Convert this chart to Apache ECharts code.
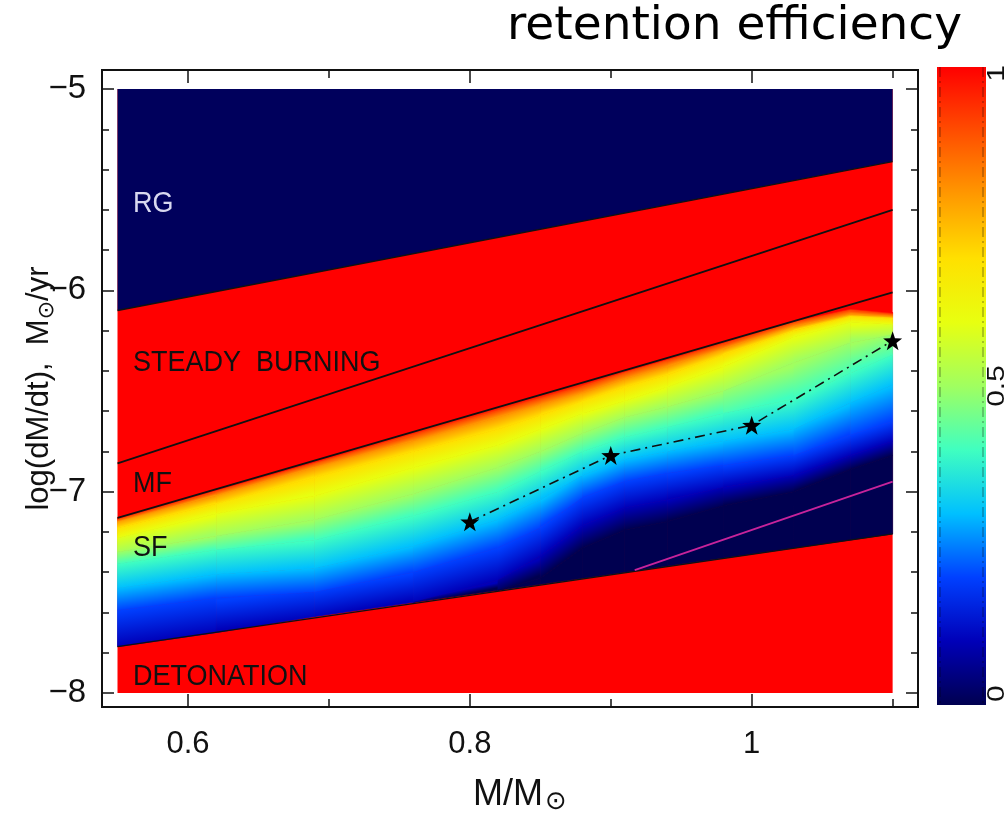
<!DOCTYPE html>
<html>
<head>
<meta charset="utf-8">
<title>retention efficiency</title>
<script src="https://cdn.jsdelivr.net/npm/echarts@6/dist/echarts.min.js"></script>
<style>
html, body { margin: 0; padding: 0; background: #fff; }
#box { width: 1005px; height: 823px; }
</style>
</head>
<body>
<div id="box"></div>
<script>
// white dwarf mass columns (M/Msun) where the efficiency map was read
var massCols = [0.55, 0.62, 0.69, 0.76, 0.82, 0.85, 0.88, 0.91, 0.94, 0.98, 1.03, 1.07, 1.1];
// efficiency of each iso-line, from the top of the SF band down
var effLevels = [1.0, 0.9, 0.8, 0.7, 0.6, 0.5, 0.4, 0.3, 0.2, 0.1, 0.0];
// log(dM/dt) of each iso-line, one row per level, one entry per mass column
var levelRates = [
    [-7.13, -6.99, -6.85, -6.70, -6.58, -6.52, -6.46, -6.40, -6.34, -6.25, -6.15, -6.09, -6.11],
    [-7.14, -7.00, -6.86, -6.72, -6.60, -6.54, -6.48, -6.41, -6.35, -6.27, -6.16, -6.10, -6.12],
    [-7.15, -7.02, -6.88, -6.75, -6.63, -6.57, -6.51, -6.44, -6.38, -6.29, -6.18, -6.12, -6.13],
    [-7.18, -7.06, -6.93, -6.80, -6.69, -6.62, -6.55, -6.48, -6.42, -6.32, -6.20, -6.13, -6.14],
    [-7.23, -7.11, -7.02, -6.88, -6.77, -6.69, -6.61, -6.55, -6.48, -6.38, -6.23, -6.16, -6.17],
    [-7.30, -7.22, -7.14, -7.01, -6.88, -6.80, -6.71, -6.63, -6.58, -6.50, -6.36, -6.26, -6.22],
    [-7.36, -7.29, -7.24, -7.12, -7.00, -6.90, -6.80, -6.73, -6.68, -6.61, -6.54, -6.41, -6.32],
    [-7.48, -7.41, -7.38, -7.27, -7.14, -7.04, -6.92, -6.84, -6.80, -6.75, -6.69, -6.56, -6.47],
    [-7.59, -7.53, -7.50, -7.40, -7.28, -7.18, -7.03, -6.95, -6.91, -6.87, -6.82, -6.72, -6.65],
    [-7.77, -7.70, -7.62, -7.55, -7.44, -7.32, -7.17, -7.08, -7.04, -6.98, -6.92, -6.82, -6.75],
    [-7.77, -7.70, -7.62, -7.55, -7.49, -7.43, -7.28, -7.19, -7.15, -7.07, -7.00, -6.89, -6.82]
];
// detonation boundary at each mass column
var detonationRates = [-7.77, -7.70, -7.62, -7.55, -7.49, -7.46, -7.43, -7.40, -7.37, -7.33, -7.28, -7.24, -7.21];

var massRange = [0.55, 1.1];
var rateRange = [-8, -5];
var rgLine = [[0.55, -6.10], [1.1, -5.36]];
var upperLine = [[0.55, -6.86], [1.1, -5.60]];
var lowerLine = [[0.55, -7.13], [1.1, -6.01]];
var detonationLine = [[0.55, -7.77], [1.1, -7.21]];
var magentaLine = [[0.917, -7.39], [1.1, -6.95]];

var starMass = [0.8, 0.9, 1.0, 1.1];
var starRate = [-7.15, -6.82, -6.67, -6.25];

var regionNames = ['RG', 'STEADY  BURNING', 'MF', 'SF', 'DETONATION'];
var regionMass = [0.561, 0.561, 0.561, 0.561, 0.561];
var regionRate = [-5.57, -6.36, -6.96, -7.28, -7.92];

var massTicks = [0.6, 0.8, 1.0];
var massMinorTicks = [0.7, 0.9, 1.1];
var rateTicks = [-8, -7, -6, -5];
var rateMinorTicks = [-7.8, -7.6, -7.4, -7.2, -6.8, -6.6, -6.4, -6.2, -5.8, -5.6, -5.4, -5.2];
var barTicks = [0, 0.5, 1];

// colour table for efficiency 0, 0.1, ... 1
var effColors = ['#000050', '#0000b8', '#0040ff', '#00c0ff', '#40ffc0', '#a0ff60',
                 '#e8ff10', '#ffe000', '#ff9900', '#ff4d00', '#ff0000'];

var FONT = "'Liberation Sans', Arial, sans-serif";

function effColor(v) {
    return echarts.color.lerp(Math.max(0, Math.min(1, v)), effColors);
}

var rows = levelRates.concat([detonationRates]);
var rowEff = effLevels.concat([0]);

var fieldCells = [];
for (var i = 0; i < massCols.length - 1; i++) {
    for (var j = 0; j < rows.length - 1; j++) {
        fieldCells.push([massCols[i], rows[j][i], i, j]);
    }
}

function renderField(params, api) {
    var i = api.value(2), j = api.value(3);
    var a = api.coord([massCols[i], rows[j][i]]);
    var b = api.coord([massCols[i + 1], rows[j][i + 1]]);
    var c = api.coord([massCols[i + 1], rows[j + 1][i + 1]]);
    var d = api.coord([massCols[i], rows[j + 1][i]]);
    if (Math.abs(d[1] - a[1]) < 0.01 && Math.abs(c[1] - b[1]) < 0.01) return null;
    var dx = (b[0] - a[0]) + (c[0] - d[0]), dy = (b[1] - a[1]) + (c[1] - d[1]);
    var len = Math.sqrt(dx * dx + dy * dy);
    dx /= len; dy /= len;
    var nx = -dy, ny = dx;
    var tm = [(a[0] + b[0]) / 2, (a[1] + b[1]) / 2];
    var bm = [(c[0] + d[0]) / 2, (c[1] + d[1]) / 2];
    var h = Math.max(0.5, (bm[0] - tm[0]) * nx + (bm[1] - tm[1]) * ny);
    var grad = new echarts.graphic.LinearGradient(tm[0], tm[1], tm[0] + nx * h, tm[1] + ny * h, [
        { offset: 0, color: effColor(rowEff[j]) },
        { offset: 1, color: effColor(rowEff[j + 1]) }
    ], true);
    return {
        type: 'polygon',
        shape: { points: [a, b, c, d] },
        style: { fill: grad, stroke: grad, lineWidth: 0.8 }
    };
}

function renderZones(params, api) {
    var p00 = api.coord([massRange[0], rateRange[0]]);
    var p11 = api.coord([massRange[1], rateRange[1]]);
    var top0 = api.coord([massRange[0], rateRange[1]]);
    var rg0 = api.coord(rgLine[0]), rg1 = api.coord(rgLine[1]);
    return {
        type: 'group',
        children: [
            { type: 'rect', shape: { x: p00[0], y: p11[1], width: p11[0] - p00[0], height: p00[1] - p11[1] },
              style: { fill: '#ff0000' } },
            { type: 'polygon', shape: { points: [top0, p11, rg1, rg0] }, style: { fill: '#00005c' } }
        ]
    };
}

function renderLabels(params, api) {
    var k = api.value(2);
    var p = api.coord([api.value(0), api.value(1)]);
    return {
        type: 'text',
        x: p[0], y: p[1],
        scaleX: 0.9,
        style: {
            text: regionNames[k],
            fill: k === 0 ? '#d8d8f0' : '#111',
            font: '30px ' + FONT,
            verticalAlign: 'middle',
            align: 'left'
        }
    };
}

function renderBar(params, api) {
    var lo = api.coord([0, 0]), hi = api.coord([1, 1]);
    var stops = effColors.map(function (c, k) { return { offset: k / (effColors.length - 1), color: c }; });
    var w = hi[0] - lo[0];
    var dash = { stroke: 'rgba(0,0,0,0.45)', lineWidth: 1, lineDash: [10, 4, 2, 4] };
    var kids = [
        { type: 'rect', shape: { x: lo[0], y: hi[1], width: w, height: lo[1] - hi[1] },
          style: { fill: new echarts.graphic.LinearGradient(0, 1, 0, 0, stops) } },
        { type: 'line', shape: { x1: lo[0] + 3, y1: hi[1], x2: lo[0] + 3, y2: lo[1] }, style: dash },
        { type: 'line', shape: { x1: hi[0] - 3, y1: hi[1], x2: hi[0] - 3, y2: lo[1] }, style: dash }
    ];
    barTicks.forEach(function (v) {
        var p = api.coord([1, v]);
        kids.push({
            type: 'text', x: p[0], y: p[1] + (v === 0 ? -3 : v === 1 ? -2 : 0),
            rotation: Math.PI / 2, scaleX: 1.3,
            style: {
                text: String(v), font: '23px ' + FONT, fill: '#111',
                align: v === 0 ? 'left' : v === 1 ? 'right' : 'center', verticalAlign: 'top'
            }
        });
    });
    return { type: 'group', children: kids };
}

function massAxis(pos, ticks, len, labels) {
    return {
        type: 'value', gridIndex: 0, position: pos, min: 0.539, max: 1.118,
        axisLine: { show: false, onZero: false },
        splitLine: { show: false },
        axisTick: { show: true, inside: true, length: len, customValues: ticks, lineStyle: { color: '#111', width: 1.5 } },
        axisLabel: { show: labels, customValues: ticks, margin: 22, fontFamily: FONT, fontSize: 31, color: '#111' }
    };
}
function rateAxis(pos, ticks, len, labels) {
    return {
        type: 'value', gridIndex: 0, position: pos, min: -8.07, max: -4.905,
        axisLine: { show: false, onZero: false },
        splitLine: { show: false },
        axisTick: { show: true, inside: true, length: len, customValues: ticks, lineStyle: { color: '#111', width: 1.5 } },
        axisLabel: {
            show: labels, customValues: ticks, margin: 16, fontFamily: FONT, fontSize: 33, color: '#111',
            formatter: function (v) { return v < 0 ? '\u2212' + Math.abs(v) : String(v); }
        }
    };
}

var xAxes = [
    massAxis('bottom', massTicks, 13, true),
    massAxis('bottom', massMinorTicks, 8, false),
    massAxis('top', massTicks, 13, false),
    massAxis('top', massMinorTicks, 8, false),
    { type: 'value', gridIndex: 1, min: 0, max: 1, show: false }
];
xAxes[0].name = '{n|M/M}{s|\u2299}';
xAxes[0].nameLocation = 'middle';
xAxes[0].nameGap = 68;
xAxes[0].nameMoveOverlap = false;
xAxes[0].nameTextStyle = {
    padding: [0, 0, 0, 20],
    rich: {
        n: { fontFamily: FONT, fontSize: 36, color: '#111' },
        s: { fontFamily: 'DejaVu Sans', fontSize: 26, color: '#111', padding: [14, 0, 0, 2] }
    }
};

var yAxes = [
    rateAxis('left', rateTicks, 12, true),
    rateAxis('left', rateMinorTicks, 7, false),
    rateAxis('right', rateTicks, 12, false),
    rateAxis('right', rateMinorTicks, 7, false),
    { type: 'value', gridIndex: 1, position: 'right', min: 0, max: 1, show: false }
];
yAxes[0].name = '{n|log(dM/dt),  M}{s|\u2299}{n|/yr}';
yAxes[0].nameLocation = 'middle';
yAxes[0].nameRotate = 90;
yAxes[0].nameGap = 44;
yAxes[0].nameMoveOverlap = false;
yAxes[0].nameTextStyle = {
    rich: {
        n: { fontFamily: FONT, fontSize: 31, color: '#111' },
        s: { fontFamily: 'DejaVu Sans', fontSize: 22, color: '#111', padding: [16, 0, 0, 0] }
    }
};

function boundary(pts, color, width, type, z) {
    return {
        type: 'line', xAxisIndex: 0, yAxisIndex: 0, data: pts, symbol: 'none', silent: true, z: z,
        lineStyle: { color: color, width: width, type: type }
    };
}

var starPath = 'path://M0,-10L2.35,-3.24L9.51,-3.09L3.8,1.24L5.88,8.09L0,4L-5.88,8.09L-3.8,1.24L-9.51,-3.09L-2.35,-3.24Z';

var myChart = echarts.init(document.getElementById('box'));
var option = {
    backgroundColor: '#fff',
    animation: false,
    title: {
        text: 'retention efficiency',
        right: 38, top: -2,
        textStyle: { fontFamily: 'DejaVu Sans', fontSize: 47, fontWeight: 'normal', color: '#000' }
    },
    grid: [
        { left: 102, top: 70, width: 816, height: 637, outerBoundsMode: 'none', containLabel: false,
          show: true, borderColor: '#111', borderWidth: 2, backgroundColor: 'transparent' },
        { left: 937, top: 67, width: 49, height: 638, outerBoundsMode: 'none', containLabel: false }
    ],
    xAxis: xAxes,
    yAxis: yAxes,
    series: [
        {
            type: 'custom', xAxisIndex: 0, yAxisIndex: 0, z: 1, silent: true,
            data: [[massRange[0], rateRange[0]]],
            renderItem: renderZones
        },
        {
            type: 'custom', xAxisIndex: 0, yAxisIndex: 0, z: 2, silent: true,
            data: fieldCells,
            encode: { x: 0, y: 1 },
            renderItem: renderField
        },
        boundary(rgLine, '#111', 1.4, 'solid', 3),
        boundary(upperLine, '#111', 1.8, 'solid', 3),
        boundary(lowerLine, '#111', 1.8, 'solid', 3),
        boundary(detonationLine, '#111', 1.4, 'solid', 3),
        boundary(magentaLine, '#c8239b', 1.8, 'solid', 3),
        {
            type: 'line', xAxisIndex: 0, yAxisIndex: 0, z: 4, silent: true,
            data: starMass.map(function (m, k) { return [m, starRate[k]]; }),
            symbol: starPath, symbolSize: 19,
            itemStyle: { color: '#000' },
            lineStyle: { color: '#111', width: 1.6, type: [10, 5, 2, 5] }
        },
        {
            type: 'custom', xAxisIndex: 0, yAxisIndex: 0, z: 5, silent: true,
            data: regionNames.map(function (n, k) { return [regionMass[k], regionRate[k], k]; }),
            encode: { x: 0, y: 1 },
            renderItem: renderLabels
        },
        {
            type: 'custom', xAxisIndex: 4, yAxisIndex: 4, silent: true,
            data: [[0, 0]],
            renderItem: renderBar
        }
    ]
};
option && myChart.setOption(option);
</script>
</body>
</html>
